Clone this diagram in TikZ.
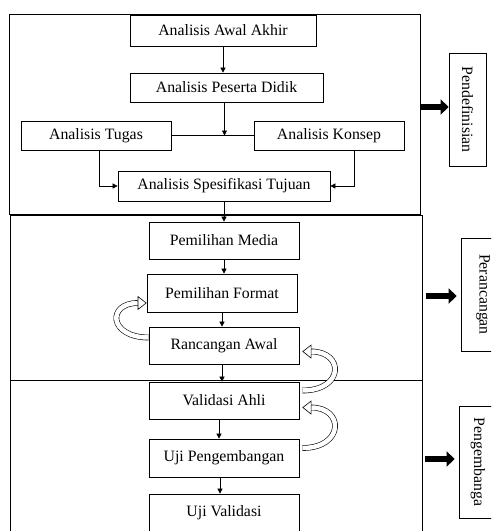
\documentclass[tikz,border=0pt]{standalone}
\usepackage{fontspec}
\setmainfont{Liberation Serif}
\usetikzlibrary{arrows.meta,positioning,calc}
\tikzset{>={Triangle[length=5pt,width=5pt]},
  tahap/.style={draw,line width=0.8pt,inner sep=0pt},
  proses/.style={draw,line width=0.7pt,minimum width=150pt,minimum height=37pt,
    font=\fontsize{15.8}{18}\selectfont,inner sep=0pt,align=center},
  fase/.style={draw,line width=0.7pt,rotate=-90,minimum width=113pt,minimum height=37pt,
    font=\fontsize{15.8}{18}\selectfont,inner sep=0pt},
  alir/.style={->,line width=0.6pt},
  blok/.style={line width=6pt,-{Triangle[length=8pt,width=15pt]}},
  putar/.style={double,double distance=4.5pt,line width=0.6pt,
    -{Triangle[open,length=9pt,width=14pt,line width=0.6pt]}}}
\begin{document}
\begin{tikzpicture}[x=1pt,y=-1pt]
\path[use as bounding box,clip] (0,0) rectangle (491,531);
% tahap
\node[tahap,minimum width=411pt,minimum height=200pt] (tahap1) at (214.5,114) {};
\node[tahap,minimum width=412pt,minimum height=165pt] (tahap2) at (216,297.5) {};
\node[tahap,minimum width=412pt,minimum height=165pt] (tahap3) at (216,462.5) {};
% pendefinisian
\node[proses,minimum width=186pt,minimum height=31pt] (awal) at (223,30.5) {Analisis Awal Akhir};
\node[proses,minimum width=193pt,minimum height=29pt] (peserta) at (226.5,87.5) {Analisis Peserta Didik};
\node[proses,minimum height=29pt] (tugas) at (96,135.5) {Analisis Tugas};
\node[proses,minimum height=29pt] (konsep) at (329,135.5) {Analisis Konsep};
\node[proses,minimum width=212pt,minimum height=30pt] (spesifikasi) at (224,186) {Analisis Spesifikasi Tujuan};
% perancangan
\node[proses] (media) at (224,240.5) {Pemilihan Media};
\node[proses,minimum height=38pt] (format) at (222,293) {Pemilihan Format};
\node[proses] (rancangan) at (224,345.5) {Rancangan Awal};
% pengembangan
\node[proses] (validasi) at (224,400.5) {Validasi Ahli};
\node[proses,minimum height=38pt] (ujipeng) at (224,458) {Uji Pengembangan};
\node[proses,minimum height=38pt] (ujival) at (224,513) {Uji Validasi};
% label tahap
\node[fase] (pendef) at (467.5,109.5) {Pendefinisian};
\node[fase,minimum height=44pt] (peranc) at (483,294.5) {Perancangan};
\node[fase,minimum width=112pt,minimum height=38pt] (pengem) at (478,462) {Pengembanga};
% alur
\draw[alir] (awal.south) -- (awal.south |- peserta.north);
\draw[line width=0.6pt] (tugas.east) -- (konsep.west);
\draw[alir] ([xshift=-2pt]peserta.south) -- ([xshift=-2pt]peserta.south |- tugas.east);
\draw[alir] ([xshift=3pt]tugas.south) |- (spesifikasi.west);
\draw[alir] ([xshift=25pt]konsep.south) |- (spesifikasi.east);
\draw[alir] (spesifikasi.south) -- (spesifikasi.south |- media.north);
\draw[alir] (media.south) -- (media.south |- format.north);
\draw[alir] (format.south) -- (format.south |- rancangan.north);
\draw[alir] ([xshift=-2pt]rancangan.south) -- ([xshift=-2pt]rancangan.south |- validasi.north);
\draw[alir] ([xshift=-5pt]validasi.south) -- ([xshift=-5pt]validasi.south |- ujipeng.north);
\draw[alir] ([xshift=-4pt]ujipeng.south) -- ([xshift=-4pt]ujipeng.south |- ujival.north);
% revisi
\draw[putar] ([yshift=8pt]rancangan.west) .. controls +(-40,0) and +(-40,0) .. ([yshift=-10pt]format.west);
\draw[putar] ([yshift=10pt,xshift=3pt]validasi.east) .. controls +(42,0) and +(42,0) .. ([yshift=-6pt,xshift=3pt]rancangan.east);
\draw[putar] ([yshift=10pt,xshift=3pt]ujipeng.east) .. controls +(42,0) and +(42,0) .. ([yshift=-7pt,xshift=3pt]validasi.east);
% ke tahap
\draw[blok] (tahap1.east |- 0,107) -- (pendef.south |- 0,107);
\draw[blok] ([xshift=4pt]tahap2.east |- 0,296) -- ([xshift=-4pt]peranc.south |- 0,296);
\draw[blok] ([xshift=3pt]tahap3.east |- 0,459) -- ([xshift=-4pt]pengem.south |- 0,459);
\end{tikzpicture}
\end{document}
